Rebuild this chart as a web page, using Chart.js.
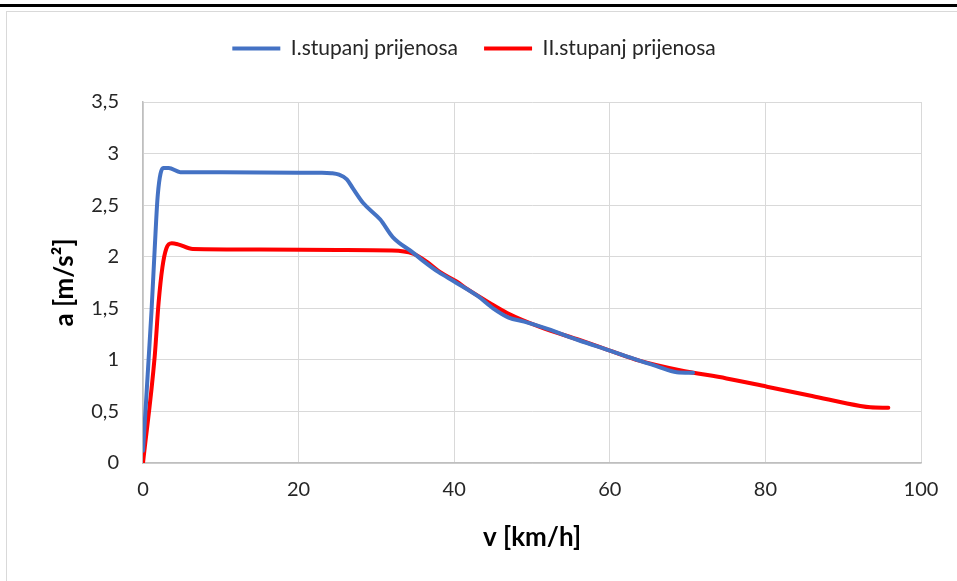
<!DOCTYPE html>
<html>
<head>
<meta charset="utf-8">
<script src="https://cdn.jsdelivr.net/npm/chart.js@4"></script>
<style>
  html, body { margin: 0; padding: 0; background: #fff; }
  body { width: 957px; height: 581px; position: relative; overflow: hidden; }
  .rule { position: absolute; left: 0; top: 4px; width: 957px; height: 3px; background: #000; }
  .frame { position: absolute; left: 6px; top: 11px; width: 980px; height: 600px; border: 1px solid #d9d9d9; }
  #chart { position: absolute; left: 7px; top: 12px; }
</style>
</head>
<body>
<div class="rule"></div>
<div class="frame"></div>
<canvas id="chart" width="950" height="569"></canvas>
<script>
// ─── Podaci (očitano s grafa) ─────────────────────
const seriesNames = ['I.stupanj prijenosa', 'II.stupanj prijenosa'];

// I. stupanj
const v1 = [0, 1.1, 1.5, 1.9, 2.6, 3.3, 4.8, 10, 20, 23, 24.2, 25.2, 26.2, 27, 28.3, 30.5, 32.1, 34.7, 36, 38, 40, 43, 45, 47, 49, 52, 56, 60, 63.5, 66, 68.6, 70.7];
const a1 = [0.12, 1.48, 2.07, 2.6, 2.86, 2.86, 2.82, 2.82, 2.815, 2.815, 2.81, 2.795, 2.75, 2.66, 2.52, 2.36, 2.19, 2.04, 1.96, 1.85, 1.76, 1.62, 1.5, 1.41, 1.37, 1.3, 1.19, 1.09, 1.0, 0.94, 0.88, 0.875];

// II. stupanj
const v2 = [0, 1.5, 2.0, 2.5, 3.0, 3.7, 4.5, 6.4, 15, 25, 32, 34.7, 36.5, 38.2, 40.3, 41.6, 44.6, 46.8, 51, 56.2, 60, 63.9, 69, 75, 80.2, 86, 92.2, 93.5, 95.8];
const a2 = [0, 1.03, 1.55, 1.9, 2.08, 2.13, 2.12, 2.075, 2.07, 2.065, 2.06, 2.03, 1.95, 1.85, 1.76, 1.69, 1.55, 1.455, 1.32, 1.19, 1.09, 0.99, 0.9, 0.82, 0.74, 0.65, 0.553, 0.54, 0.536];

const xTicks = [0, 20, 40, 60, 80, 100];
const yTicks = [0, 0.5, 1, 1.5, 2, 2.5, 3, 3.5];

const colors = ['#4472C4', '#FF0000'];
const FONT = 'Lato, "Open Sans", sans-serif';
const toPoints = (xs, ys) => xs.map((x, i) => ({ x, y: ys[i] }));
const fmt = v => String(v).replace('.', ',');

// legenda zauzima fiksnu visinu da bi plot počeo na pravom mjestu
const legendHeight = {
  id: 'legendHeight',
  beforeLayout(chart) {
    const lg = chart.legend;
    if (!lg || lg._fixed) return;
    const fit = lg.fit.bind(lg);
    lg.fit = function () { fit(); this.height = 90; };
    lg._fixed = true;
  },
};

new Chart(document.getElementById('chart'), {
  type: 'line',
  data: {
    datasets: [
      { label: seriesNames[0], data: toPoints(v1, a1) },
      { label: seriesNames[1], data: toPoints(v2, a2) },
    ].map((d, i) => ({
      ...d,
      borderColor: colors[i],
      backgroundColor: colors[i],
      borderWidth: 4,
      pointRadius: 0,
      fill: false,
      cubicInterpolationMode: 'monotone',
      borderCapStyle: 'round',
      borderJoinStyle: 'round',
    })),
  },
  options: {
    responsive: false,
    animation: false,
    layout: { padding: { left: 20, right: 36, top: 0, bottom: 0 } },
    plugins: {
      tooltip: { enabled: false },
      legend: {
        position: 'top',
        labels: {
          color: '#262626',
          font: { family: FONT, size: 21 },
          usePointStyle: true,
          pointStyle: 'line',
          pointStyleWidth: 48,
          boxHeight: 21,
          padding: 26,
        },
      },
    },
    scales: {
      x: {
        type: 'linear',
        min: 0, max: 100,
        afterBuildTicks: s => { s.ticks = xTicks.map(v => ({ value: v })); },
        afterFit: s => { s.height = 118; },
        grid: { color: '#d9d9d9', lineWidth: 1, drawTicks: false },
        border: { color: '#bfbfbf', width: 1.5 },
        ticks: { color: '#262626', font: { family: FONT, size: 20 }, padding: 15, callback: fmt, maxRotation: 0 },
        title: { display: true, text: 'v [km/h]', color: '#000', font: { family: FONT, size: 26, weight: 'bold' }, padding: { top: 0, bottom: 28 } },
      },
      y: {
        type: 'linear',
        min: 0, max: 3.5,
        afterBuildTicks: s => { s.ticks = yTicks.map(v => ({ value: v })); },
        afterFit: s => { s.width = 116; },
        grid: { color: '#d9d9d9', lineWidth: 1, drawTicks: false },
        border: { color: '#bfbfbf', width: 1.5 },
        ticks: { color: '#262626', font: { family: FONT, size: 20 }, padding: 24, callback: fmt },
        title: { display: true, text: 'a [m/s²]', color: '#000', font: { family: FONT, size: 26, weight: 'bold' }, padding: { top: 22, bottom: 0 } },
      },
    },
  },
  plugins: [legendHeight],
});
</script>
</body>
</html>
